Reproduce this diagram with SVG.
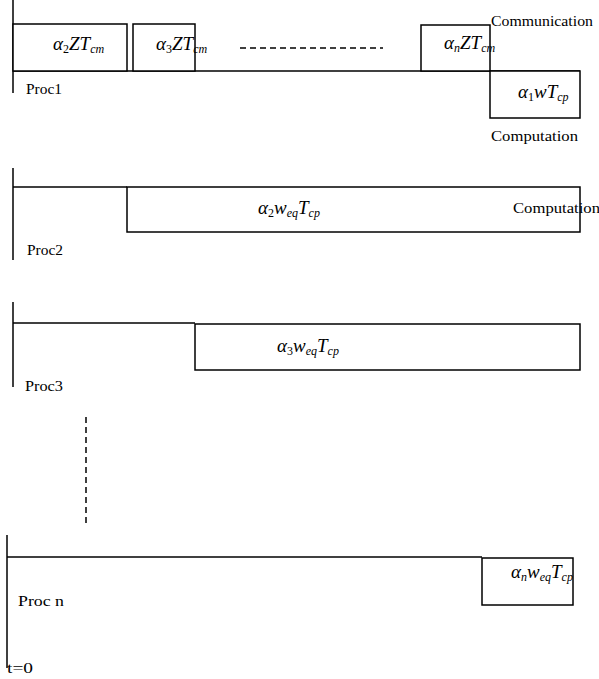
<svg xmlns="http://www.w3.org/2000/svg" width="599" height="679" viewBox="0 0 599 679">
<style>
.ln{stroke:#000;stroke-width:1.5;fill:none}
.bx{stroke:#000;stroke-width:1.5;fill:#fff}
.t{font-family:"Liberation Serif","DejaVu Serif",serif;font-size:15px;fill:#000}
.m{font-family:"Liberation Serif","DejaVu Serif",serif;font-size:19px;font-style:italic;fill:#000}
.s{font-size:12px}
.dash{stroke:#000;stroke-width:1.5;stroke-dasharray:6,4;fill:none}
</style>
<rect width="599" height="679" fill="#fff"/>
<g id="proc1">
<line class="ln" x1="13" y1="0" x2="13" y2="93"/>
<line class="ln" x1="13" y1="71" x2="580" y2="71"/>
<rect class="bx" x="13" y="24" width="114" height="47"/>
<rect class="bx" x="133" y="24" width="62" height="47"/>
<rect class="bx" x="421" y="25" width="69" height="46"/>
<rect class="bx" x="490" y="71" width="90" height="47"/>
<text class="m" x="53" y="50">α<tspan class="s" font-style="normal" dy="3">2</tspan><tspan dy="-3">ZT</tspan><tspan class="s" dy="3">cm</tspan></text>
<text class="m" x="156" y="50">α<tspan class="s" font-style="normal" dy="3">3</tspan><tspan dy="-3">ZT</tspan><tspan class="s" dy="3">cm</tspan></text>
<text class="m" x="444" y="49">α<tspan class="s" dy="3">n</tspan><tspan dy="-3">ZT</tspan><tspan class="s" dy="3">cm</tspan></text>
<text class="m" x="518" y="98">α<tspan class="s" font-style="normal" dy="3">1</tspan><tspan dy="-3">wT</tspan><tspan class="s" dy="3">cp</tspan></text>
<line class="dash" x1="240" y1="48" x2="383" y2="48"/>
<text class="t" x="491" y="26" textLength="102" lengthAdjust="spacingAndGlyphs">Communication</text>
<text class="t" x="491" y="141" textLength="87" lengthAdjust="spacingAndGlyphs">Computation</text>
<text class="t" x="26" y="94" textLength="36" lengthAdjust="spacingAndGlyphs">Proc1</text>
</g>
<g id="proc2">
<line class="ln" x1="13" y1="168" x2="13" y2="260"/>
<line class="ln" x1="13" y1="187" x2="127" y2="187"/>
<rect class="bx" x="127" y="187" width="453" height="45"/>
<text class="m" x="258" y="214">α<tspan class="s" font-style="normal" dy="3">2</tspan><tspan dy="-3">w</tspan><tspan class="s" dy="3">eq</tspan><tspan dy="-3">T</tspan><tspan class="s" dy="3">cp</tspan></text>
<text class="t" x="513" y="213" textLength="87" lengthAdjust="spacingAndGlyphs">Computation</text>
<text class="t" x="27" y="255" textLength="36" lengthAdjust="spacingAndGlyphs">Proc2</text>
</g>
<g id="proc3">
<line class="ln" x1="13" y1="302" x2="13" y2="387"/>
<line class="ln" x1="13" y1="323" x2="195" y2="323"/>
<rect class="bx" x="195" y="324" width="385" height="46"/>
<text class="m" x="277" y="352">α<tspan class="s" font-style="normal" dy="3">3</tspan><tspan dy="-3">w</tspan><tspan class="s" dy="3">eq</tspan><tspan dy="-3">T</tspan><tspan class="s" dy="3">cp</tspan></text>
<text class="t" x="25" y="391" textLength="38" lengthAdjust="spacingAndGlyphs">Proc3</text>
</g>
<g id="ellipsis">
<line class="dash" x1="86" y1="417" x2="86" y2="527"/>
</g>
<g id="procn">
<line class="ln" x1="7" y1="535" x2="7" y2="668"/>
<line class="ln" x1="7" y1="557" x2="482" y2="557"/>
<rect class="bx" x="482" y="558" width="91" height="47"/>
<text class="m" x="511" y="578">α<tspan class="s" dy="3">n</tspan><tspan dy="-3">w</tspan><tspan class="s" dy="3">eq</tspan><tspan dy="-3">T</tspan><tspan class="s" dy="3">cp</tspan></text>
<text class="t" x="18" y="606" textLength="46" lengthAdjust="spacingAndGlyphs">Proc n</text>
<text class="t" x="7" y="673" textLength="26" lengthAdjust="spacingAndGlyphs">t=0</text>
</g>
</svg>
